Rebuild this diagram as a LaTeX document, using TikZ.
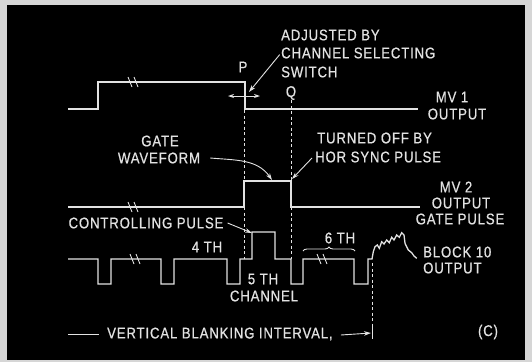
\documentclass[tikz,border=0pt]{standalone}
\usepackage{fontspec}
\setmainfont{Liberation Sans}[FakeStretch=0.85,LetterSpace=5.5,FakeBold=0.6]
\usetikzlibrary{arrows.meta,decorations.pathreplacing}
\definecolor{fg}{HTML}{E2E2E2}
\definecolor{frame}{HTML}{D6D6D6}
\begin{document}
\begin{tikzpicture}[x=1pt,y=-1pt,
  wave/.style={draw=fg,line width=1.3pt,line join=miter},
  guide/.style={draw=fg,line width=0.9pt,dash pattern=on 3pt off 2.5pt},
  lbl/.style={text=fg,inner sep=0pt,font=\fontsize{15.5}{17}\selectfont},
  lead/.style={draw=fg,line width=0.9pt,-{Stealth[length=7pt,width=4.5pt]}},
  brk/.style={draw=fg,line width=0.9pt}]
\useasboundingbox (0,0) rectangle (532,362);
\fill[frame] (0,0) rectangle (532,362);
\fill[black] (7,5) rectangle (525,360);

% MV1 output
\draw[wave] (68,109) -- (98,109) -- (98,82) -- (245,82) -- (245,109) -- (418,109);
\draw[brk,shift={(133,82)}] (-5,-5) -- (-1,5) (1,-5) -- (5,5);
% gate waveform
\draw[wave] (68,207) -- (244,207) -- (244,181) -- (291,181) -- (291,207) -- (420,207);
\draw[brk,shift={(133,207)}] (-5,-5) -- (-1,5) (1,-5) -- (5,5);
% channel pulses
\draw[wave] (68,259) -- (98,259) -- (98,284) -- (111,284) -- (111,259) -- (161,259) -- (161,284) -- (174,284) -- (174,259)
  -- (227,259) -- (227,284) -- (240,284) -- (240,259) -- (252,259) -- (252,232) -- (275,232) -- (275,259)
  -- (291,259) -- (291,284) -- (303,284) -- (303,259) -- (354,259) -- (354,284) -- (368,284) -- (368,259) -- (372,259)
  -- (373.3,251.7) -- (375,246.7) -- (377.3,245) -- (379.3,248.3) -- (381.7,241.7) -- (384,244) -- (386.7,240)
  -- (389.3,242.7) -- (391.7,237.3) -- (394,240) -- (396.7,235) -- (399.3,237.3) -- (401.7,232.7) -- (404,235)
  -- (405,243.3) -- (408.3,250) -- (411.7,252.7) -- (414,256) -- (416.7,258.3);
\draw[brk,shift={(135,259)}] (-5,-5) -- (-1,5) (1,-5) -- (5,5);
\draw[brk,shift={(322,259)}] (-5,-5) -- (-1,5) (1,-5) -- (5,5);

% guides
\draw[guide] (244,110) -- (244,181);
\draw[guide] (244,207) -- (244,259);
\draw[guide] (291,100) -- (291,181);
\draw[guide] (291,207) -- (291,259);
\draw[guide] (372,263) -- (372,328);
\draw[fg,line width=1pt] (372,325) -- (372,339);

% labels
\node[lbl] (p) at (243,67) {P};
\node[lbl] (q) at (291,93) {Q};
\node[lbl,anchor=west] (adj1) at (281,35) {ADJUSTED BY};
\node[lbl,anchor=west] (adj2) at (281,53) {CHANNEL SELECTING};
\node[lbl,anchor=west] (adj3) at (281,72) {SWITCH};
\node[lbl] (mv1a) at (452,97) {MV 1};
\node[lbl] (mv1b) at (457,114) {OUTPUT};
\node[lbl] (gate1) at (160,141) {GATE};
\node[lbl] (gate2) at (159,158) {WAVEFORM};
\node[lbl,anchor=west] (off1) at (317,138) {TURNED OFF BY};
\node[lbl,anchor=west] (off2) at (315,157) {HOR SYNC PULSE};
\node[lbl] (mv2a) at (456,187) {MV 2};
\node[lbl] (mv2b) at (461,203) {OUTPUT};
\node[lbl] (mv2c) at (460,219) {GATE PULSE};
\node[lbl] (ctl) at (146,223) {CONTROLLING PULSE};
\node[lbl] (th4) at (207,247) {4 TH};
\node[lbl] (th5) at (263,279) {5 TH};
\node[lbl] (chan) at (264,296) {CHANNEL};
\node[lbl] (th6) at (340,238) {6 TH};
\node[lbl,anchor=west] (blk1) at (423,252) {BLOCK 10};
\node[lbl,anchor=west] (blk2) at (423,268) {OUTPUT};
\node[lbl,anchor=west] (vbi) at (107,334) {VERTICAL BLANKING INTERVAL,};
\node[lbl] (cc) at (488,332) {(C)};

% leaders
\coordinate (ptip) at (249,92);
\draw[lead,shorten <=2pt] (adj2.west) -- (ptip);
\coordinate (pl) at (228,96);
\coordinate (pr) at (260,96);
\draw[fg,line width=0.9pt,{Stealth[length=6pt,width=4pt]}-{Stealth[length=6pt,width=4pt]}] (pl) -- (pr);
\coordinate (gtip) at (272,180);
\draw[lead] ([xshift=10pt]gate2.east) to[out=-5,in=125] (gtip);
\coordinate (qtip) at (292,179);
\draw[lead] ([xshift=-3pt,yshift=-1pt]off2.west) -- (qtip);
\coordinate (ctip) at (252,233);
\draw[lead] ([xshift=4pt]ctl.east) -- (ctip);
\coordinate (vbe) at (371,333);
\draw[lead] ([xshift=8pt,yshift=-1pt]vbi.east) -- (vbe);
\coordinate (vl1) at (68,334);
\coordinate (vl2) at (99,334);
\draw[fg,line width=0.9pt] (vl1) -- (vl2);
\coordinate (b1) at (303,251);
\coordinate (b2) at (355,251);
\draw[fg,line width=0.9pt,decorate,decoration={brace,amplitude=4pt}] (b1) -- (b2);
\end{tikzpicture}
\end{document}
